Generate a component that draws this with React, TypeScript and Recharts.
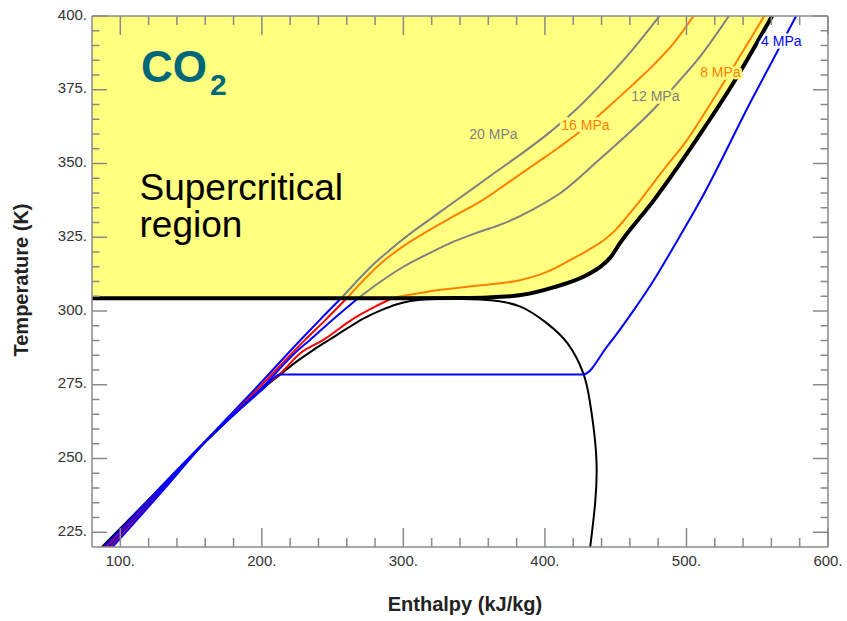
import React from 'react'
import { ComposedChart, Line, Area, XAxis, YAxis, ReferenceDot } from 'recharts'

type Pt = { h: number; T: number }

const FONT = '"Liberation Sans", Arial, Helvetica, sans-serif'
const AXIS = '#8a8a8a'
const TICK_TEXT = '#333'
const YELLOW = '#FFFF80'

// enthalpy ticks (kJ/kg) and temperature ticks (K)
const hTicks = [100, 120, 140, 160, 180, 200, 220, 240, 260, 280, 300, 320, 340, 360, 380, 400, 420, 440, 460, 480, 500, 520, 540, 560, 580, 600]
const hMajor = [100, 200, 300, 400, 500, 600]
const tTicks = [225, 230, 235, 240, 245, 250, 255, 260, 265, 270, 275, 280, 285, 290, 295, 300, 305, 310, 315, 320, 325, 330, 335, 340, 345, 350, 355, 360, 365, 370, 375, 380, 385, 390, 395, 400]
const tMajor = [225, 250, 275, 300, 325, 350, 375, 400]

// saturation dome
const satLiquid: Pt[] = [
  { h: 87, T: 220 }, { h: 124, T: 238 }, { h: 161, T: 256 }, { h: 200, T: 273.5 }, { h: 213, T: 278.5 },
  { h: 225, T: 283 }, { h: 237, T: 287 }, { h: 248.5, T: 290.5 }, { h: 260, T: 294 }, { h: 272, T: 297.5 },
  { h: 284, T: 300.2 }, { h: 295, T: 302.2 }, { h: 305, T: 303.4 }, { h: 318, T: 304 }, { h: 332, T: 304.13 },
]
const satVapor: Pt[] = [
  { h: 432, T: 220 }, { h: 435.5, T: 235 }, { h: 436.5, T: 248 }, { h: 434.5, T: 260 }, { h: 431.5, T: 270 },
  { h: 427, T: 279 }, { h: 416, T: 289 }, { h: 401.5, T: 295.8 }, { h: 382.7, T: 301.5 }, { h: 359, T: 303.7 },
  { h: 332, T: 304.13 },
]

// edge of the supercritical region
const criticalBoundary: Pt[] = [
  { h: 80, T: 304.3 }, { h: 300, T: 304.3 }, { h: 340, T: 304.4 }, { h: 360, T: 304.6 }, { h: 383, T: 305.4 },
  { h: 406, T: 308 }, { h: 430, T: 312.3 }, { h: 440, T: 315.3 }, { h: 446, T: 318 }, { h: 453, T: 323 },
  { h: 477, T: 337.6 }, { h: 510, T: 360.2 }, { h: 533, T: 377.2 }, { h: 560.5, T: 400 },
]

// isobars below the critical temperature
const p20Low: Pt[] = [
  { h: 94.5, T: 220 }, { h: 128, T: 238 }, { h: 160.5, T: 256 }, { h: 198, T: 275 }, { h: 227, T: 290 },
  { h: 241, T: 297 }, { h: 256, T: 304.3 },
]
const p16Low: Pt[] = [
  { h: 93, T: 220 }, { h: 127, T: 238 }, { h: 160.5, T: 256 }, { h: 199, T: 274.5 }, { h: 230.5, T: 290.2 },
  { h: 245, T: 297 }, { h: 260, T: 304.3 },
]
const p12Low: Pt[] = [
  { h: 91.5, T: 220 }, { h: 126, T: 238 }, { h: 160.5, T: 256 }, { h: 200, T: 274 }, { h: 227, T: 287.4 },
  { h: 234, T: 290.2 }, { h: 250, T: 297 }, { h: 268, T: 304.3 },
]
const p8Low: Pt[] = [
  { h: 90, T: 220 }, { h: 125, T: 238 }, { h: 160.5, T: 256 }, { h: 200, T: 273.8 }, { h: 213, T: 278.8 },
  { h: 227, T: 285.6 }, { h: 243.5, T: 290.2 }, { h: 265, T: 297.5 }, { h: 280, T: 301.5 }, { h: 293, T: 304.5 },
]
const p4: Pt[] = [
  { h: 88.5, T: 220 }, { h: 124, T: 238 }, { h: 160.5, T: 256 }, { h: 200, T: 273.2 }, { h: 213, T: 278.5 },
  { h: 427, T: 278.5 }, { h: 444, T: 288 }, { h: 462.8, T: 300.3 }, { h: 477, T: 310.5 }, { h: 491, T: 321.8 },
  { h: 510, T: 337.6 }, { h: 546, T: 371.5 }, { h: 577.5, T: 400 },
]

// isobars inside the supercritical region
const p20High: Pt[] = [
  { h: 256, T: 304.3 }, { h: 266, T: 309.5 }, { h: 277, T: 315 }, { h: 290, T: 320.5 }, { h: 305, T: 326.3 },
  { h: 320, T: 331.5 }, { h: 335, T: 336.7 }, { h: 350, T: 341.8 }, { h: 364, T: 346.7 }, { h: 384, T: 353.5 },
  { h: 404, T: 360.8 }, { h: 422, T: 368.3 }, { h: 439, T: 376.5 }, { h: 460, T: 387.5 }, { h: 481, T: 400 },
]
const p16High: Pt[] = [
  { h: 260, T: 304.3 }, { h: 272, T: 310.5 }, { h: 285, T: 316.5 }, { h: 300, T: 322 }, { h: 315, T: 326.5 },
  { h: 335, T: 332 }, { h: 356, T: 337.6 }, { h: 374, T: 343.5 }, { h: 392, T: 349.5 }, { h: 410, T: 355.5 },
  { h: 428, T: 362 }, { h: 444, T: 368.8 }, { h: 460, T: 375.8 }, { h: 477, T: 383.5 }, { h: 491, T: 390.8 },
  { h: 505, T: 400 },
]
const p12High: Pt[] = [
  { h: 268, T: 304.3 }, { h: 284, T: 310 }, { h: 300, T: 315 }, { h: 318, T: 319.5 }, { h: 335.5, T: 323.5 },
  { h: 353, T: 326.7 }, { h: 371, T: 329.7 }, { h: 391, T: 334.3 }, { h: 411, T: 340 }, { h: 440, T: 352 },
  { h: 462, T: 361.5 }, { h: 478, T: 369 }, { h: 494, T: 377.5 }, { h: 510, T: 386.5 }, { h: 530, T: 400 },
]
const p8High: Pt[] = [
  { h: 293, T: 304.5 }, { h: 320, T: 306.8 }, { h: 350, T: 308.5 }, { h: 383, T: 310.5 }, { h: 400, T: 313 },
  { h: 418, T: 317.3 }, { h: 430, T: 320.5 }, { h: 441.5, T: 324 }, { h: 450, T: 327.5 }, { h: 458, T: 332 },
  { h: 467.5, T: 337.6 }, { h: 484, T: 348 }, { h: 500.5, T: 358 }, { h: 516, T: 369.5 }, { h: 536, T: 385 },
  { h: 555, T: 400 },
]

// isobar labels, anchored in (h, T)
const isobarLabels = [
  { text: '20 MPa', h: 363.6, T: 360, kind: 'gray' },
  { text: '16 MPa', h: 428.6, T: 363, kind: 'orange' },
  { text: '12 MPa', h: 478, T: 372.9, kind: 'gray' },
  { text: '8 MPa', h: 524, T: 381, kind: 'orange' },
  { text: '4 MPa', h: 567, T: 391.5, kind: 'blue' },
]
const labelColor: Record<string, string> = { gray: '#808080', orange: '#FF8000', blue: '#0000FF' }
const labelHalo: Record<string, string> = { gray: YELLOW, orange: YELLOW, blue: '#ffffff' }

function BottomTick({ x, y, payload }: any) {
  const major = hMajor.includes(payload.value)
  return (
    <g>
      <line x1={x} y1={y} x2={x} y2={y - (major ? 19 : 9)} stroke={AXIS} strokeWidth={1.5} />
      {major && (
        <text x={x} y={y + 19} textAnchor="middle" fontSize={15} fontFamily={FONT} fill={TICK_TEXT}>
          {`${payload.value}.`}
        </text>
      )}
    </g>
  )
}

function TopTick({ x, y, payload }: any) {
  const major = hMajor.includes(payload.value)
  return <line x1={x} y1={y} x2={x} y2={y + (major ? 19 : 9)} stroke={AXIS} strokeWidth={1.5} />
}

function LeftTick({ x, y, payload }: any) {
  const major = tMajor.includes(payload.value)
  return (
    <g>
      <line x1={x} y1={y} x2={x + (major ? 15 : 7.5)} y2={y} stroke={AXIS} strokeWidth={1.5} />
      {major && (
        <text x={x - 5} y={y + 3.5} textAnchor="end" fontSize={15} fontFamily={FONT} fill={TICK_TEXT}>
          {`${payload.value}.`}
        </text>
      )}
    </g>
  )
}

function RightTick({ x, y, payload }: any) {
  const major = tMajor.includes(payload.value)
  return <line x1={x} y1={y} x2={x - (major ? 15 : 7.5)} y2={y} stroke={AXIS} strokeWidth={1.5} />
}

function IsobarLabel({ viewBox, text, fill, halo }: any) {
  const cx = viewBox.x + (viewBox.width || 0) / 2
  const cy = viewBox.y + (viewBox.height || 0) / 2
  return (
    <text
      x={cx} y={cy} dy="0.35em" textAnchor="middle" fontSize={14} fontFamily={FONT}
      fill={fill} stroke={halo} strokeWidth={5} paintOrder="stroke"
    >
      {text}
    </text>
  )
}

const W = 847
const H = 621

export default function App() {
  const line = (key: string, data: Pt[], stroke: string, width = 2, curve: any = 'monotone') => (
    <Line
      key={key}
      xAxisId="b"
      yAxisId="l"
      data={data}
      dataKey="T"
      type={curve}
      stroke={stroke}
      strokeWidth={width}
      dot={false}
      activeDot={false}
      isAnimationActive={false}
    />
  )

  // axes are 1px thick so they still draw; ticks point into the plot
  const axisLine = { stroke: AXIS, strokeWidth: 1.5 }

  return (
    <div style={{ position: 'absolute', left: 0, top: 0, width: W, height: H, overflow: 'hidden', fontFamily: FONT }}>
      <ComposedChart width={W} height={H} margin={{ top: 15, right: 18, bottom: 73, left: 91 }}>
        <XAxis
          xAxisId="b" type="number" dataKey="h" domain={[80, 600]} allowDataOverflow
          ticks={hTicks} interval={0} height={1} tickSize={0} tickMargin={0}
          tickLine={false} axisLine={axisLine} tick={BottomTick}
        />
        <XAxis
          xAxisId="t" orientation="top" type="number" dataKey="h" domain={[80, 600]} allowDataOverflow
          ticks={hTicks} interval={0} height={1} tickSize={0} tickMargin={0}
          tickLine={false} axisLine={axisLine} tick={TopTick}
        />
        <YAxis
          yAxisId="l" type="number" domain={[220, 400]} allowDataOverflow
          ticks={tTicks} interval={0} width={1} tickSize={0} tickMargin={0}
          tickLine={false} axisLine={axisLine} tick={LeftTick}
        />
        <YAxis
          yAxisId="r" orientation="right" type="number" domain={[220, 400]} allowDataOverflow
          ticks={tTicks} interval={0} width={1} tickSize={0} tickMargin={0}
          tickLine={false} axisLine={axisLine} tick={RightTick}
        />

        <Area
          xAxisId="b" yAxisId="l" data={criticalBoundary} dataKey="T" type="monotone"
          baseValue={400} fill={YELLOW} fillOpacity={1} stroke="none" dot={false} activeDot={false}
          isAnimationActive={false}
        />

        {line('satLiquid', satLiquid, '#000000', 2)}
        {line('satVapor', satVapor, '#000000', 2, 'natural')}

        {line('p8Low', p8Low, '#FF0000')}
        {line('p16Low', p16Low, '#FF0000')}
        {line('p4', p4, '#0000FF')}
        {line('p12Low', p12Low, '#0000FF')}
        {line('p20Low', p20Low, '#0000FF')}

        {line('p8High', p8High, '#FF8000')}
        {line('p12High', p12High, '#808080')}
        {line('p16High', p16High, '#FF8000')}
        {line('p20High', p20High, '#808080')}

        {isobarLabels.map(l => (
          <ReferenceDot
            key={l.text}
            xAxisId="b"
            yAxisId="l"
            x={l.h}
            y={l.T}
            r={0}
            fill="none"
            stroke="none"
            ifOverflow="visible"
            label={(p: any) => (
              <IsobarLabel {...p} text={l.text} fill={labelColor[l.kind]} halo={labelHalo[l.kind]} />
            )}
          />
        ))}

        {line('boundary', criticalBoundary, '#000000', 4)}
      </ComposedChart>

      <svg
        width={W}
        height={H}
        style={{ position: 'absolute', left: 0, top: 0, pointerEvents: 'none' }}
      >
        <text x={141} y={82} fontSize={44} fontWeight="bold" fill="#00677A" fontFamily={FONT}>
          CO<tspan fontSize={30} dx={3} dy={13}>2</tspan>
        </text>
        <text x={139.5} y={200} fontSize={37} fill="#000" fontFamily={FONT}>Supercritical</text>
        <text x={139.5} y={237} fontSize={37} fill="#000" fontFamily={FONT}>region</text>
        <text
          x={28} y={280} transform="rotate(-90 28 280)" textAnchor="middle"
          fontSize={20} fontWeight="bold" fill="#222" fontFamily={FONT}
        >
          Temperature (K)
        </text>
        <text x={465} y={611} textAnchor="middle" fontSize={20} fontWeight="bold" fill="#222" fontFamily={FONT}>
          Enthalpy (kJ/kg)
        </text>
      </svg>
    </div>
  )
}
